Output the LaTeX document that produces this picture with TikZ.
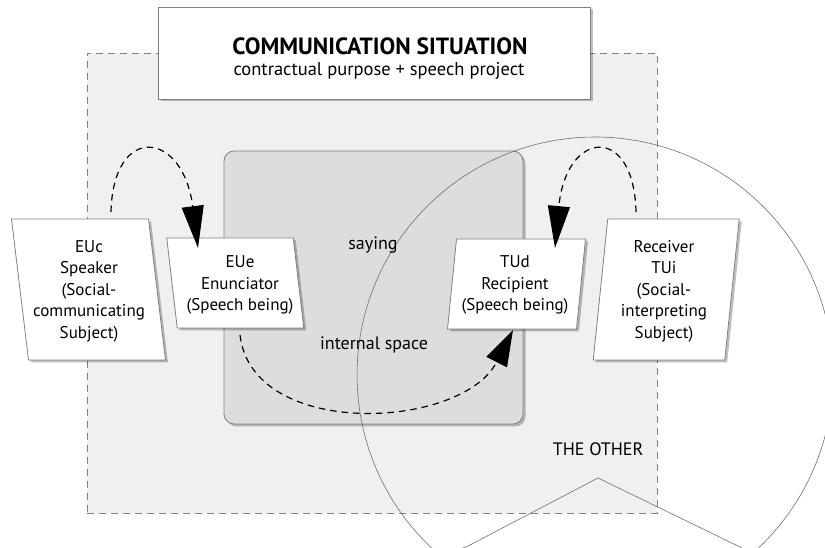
\documentclass[tikz,border=0pt]{standalone}
\usepackage{fontspec}
\setmainfont{PT Sans}
\usetikzlibrary{arrows.meta,shadows,calc}
\definecolor{outerfill}{HTML}{F0F0F0}
\definecolor{innerfill}{HTML}{DCDDDF}
\definecolor{edgegray}{HTML}{808080}
\definecolor{linegray}{HTML}{707070}
\begin{document}
\begin{tikzpicture}[x=1pt,y=1pt,
  geom/.style={inner sep=0pt, outer sep=0pt, draw=none},
  shade3/.style={drop shadow={shadow xshift=2.5pt, shadow yshift=-2.5pt, opacity=0.25, fill=black}},
  boxshape/.style={fill=white, draw=edgegray, line width=0.8pt, shade3},
  boxtext/.style={align=center, font=\fontsize{17}{21.5}\selectfont, inner sep=0pt},
  plain/.style={font=\fontsize{18}{21.5}\selectfont, inner sep=0pt},
  flow/.style={dashed, dash pattern=on 6.5pt off 5pt, line width=1.2pt, draw=black},
  bigtip/.style={-{Triangle[length=42pt,width=22pt]}},
  midtip/.style={-{Triangle[length=36pt,width=23pt]}}
]
\useasboundingbox (0,0) rectangle (825,548);
\clip (0,0) rectangle (825,548);

% outer communication situation area
\node[geom, minimum width=570pt, minimum height=460pt, fill=outerfill,
      draw=edgegray, line width=0.8pt, dashed, dash pattern=on 7pt off 5pt] (situation) at (372,265) {};

% title box
\node[geom, minimum width=432pt, minimum height=92pt, fill=white, draw=edgegray, line width=0.8pt, shade3] (titlebox) at (374,495) {};
\node[anchor=base, inner sep=0pt, font=\fontsize{23.5}{25}\selectfont\bfseries] (ttl) at (380,493) {COMMUNICATION SITUATION};
\node[anchor=base, inner sep=0pt, font=\fontsize{18.5}{21}\selectfont] (sub) at (379,472.5) {contractual purpose + speech project};

% internal space
\node[geom, minimum width=299pt, minimum height=273pt, fill=innerfill, draw=edgegray,
      line width=0.8pt, rounded corners=10pt, shade3] (space) at (373.5,260.5) {};

% the other (circle with notch)
\draw[linegray, line width=0.6pt] (598,70) -- (468,2) .. controls (455,-4) and (440,-3) .. (431.6,0)
  arc[start angle=226.63, end angle=-46.63, radius=238]
  .. controls (752,-4) and (745,-3) .. (740,1) -- cycle;

% box geometry
\node[geom, minimum width=137pt, minimum height=141pt] (euc) at (88.5,258.5) {};
\node[geom, minimum width=126.5pt, minimum height=90pt] (eue) at (235.25,265) {};
\node[geom, minimum width=129pt, minimum height=90pt] (tud) at (516.5,264) {};
\node[geom, minimum width=131.5pt, minimum height=141pt] (tui) at (666.25,258.5) {};

\draw[boxshape] ([xshift=-8.5pt]euc.north west) -- ([xshift=-8.5pt]euc.north east)
  -- ([xshift=8.5pt]euc.south east) -- ([xshift=8.5pt]euc.south west) -- cycle;
\draw[boxshape] ([xshift=-5.25pt]eue.north west) -- ([xshift=-5.25pt]eue.north east)
  -- ([xshift=5.25pt]eue.south east) -- ([xshift=5.25pt]eue.south west) -- cycle;
\draw[boxshape] ([xshift=4.5pt]tud.north west) -- ([xshift=4.5pt]tud.north east)
  -- ([xshift=-4.5pt]tud.south east) -- ([xshift=-4.5pt]tud.south west) -- cycle;
\draw[boxshape] ([xshift=7.25pt]tui.north west) -- ([xshift=7.25pt]tui.north east)
  -- ([xshift=-7.25pt]tui.south east) -- ([xshift=-7.25pt]tui.south west) -- cycle;

% box texts
\node[boxtext] (euctext) at (89,257) {EUc\\Speaker\\(Social-\\communicating\\Subject)};
\node[boxtext] (euetext) at (240,263) {EUe\\Enunciator\\(Speech being)};
\node[boxtext] (tudtext) at (515,263) {TUd\\Recipient\\(Speech being)};
\node[boxtext] (tuitext) at (664,257) {Receiver\\TUi\\(Social-\\interpreting\\Subject)};

% free labels
\node[plain] (saying) at (373,303) {saying};
\node[plain] (internal) at (374,203) {internal space};
\node[plain] (other) at (598,99) {THE OTHER};

% connectors
\draw[flow, bigtip] ($(euc.north)+(22.5,7)$) .. controls (113,425) and (183,418) .. ($(eue.north)+(-37.25,-10)$);
\draw[flow, bigtip] ($(tui.north)+(-30.25,7)$) .. controls (634,425) and (566,418) .. ($(tud.north)+(38.5,-9)$);
\draw[flow, midtip] ($(eue.south)+(4.75,-7)$) .. controls (252,108) and (462,118) .. ($(tud.south)+(-3.5,-1)$);
\end{tikzpicture}
\end{document}
